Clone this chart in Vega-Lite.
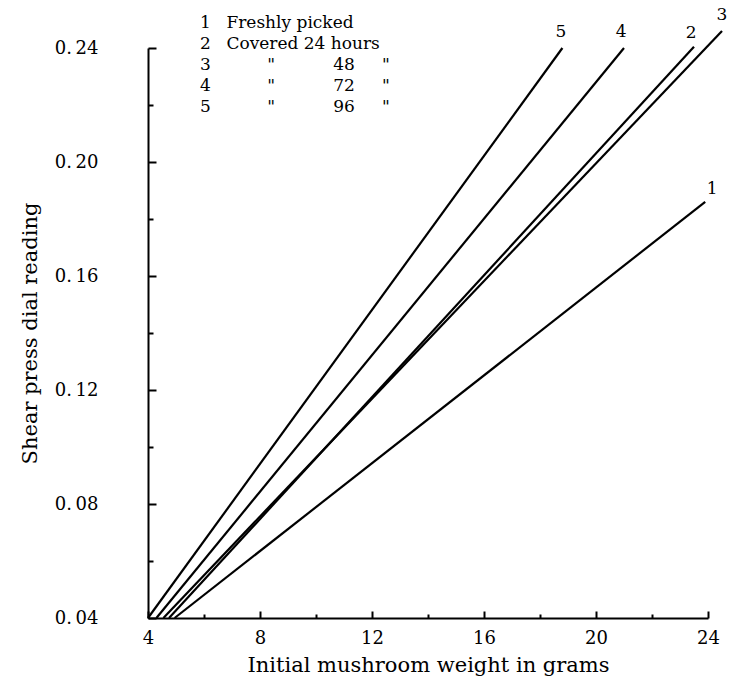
{
  "$schema": "https://vega.github.io/schema/vega-lite/v6.json",
  "width": 560,
  "height": 570,
  "autosize": {"type": "none"},
  "padding": {"left": 148, "top": 48, "right": 23, "bottom": 60},
  "background": "white",
  "config": {"view": {"stroke": null}, "font": "DejaVu Serif"},
  "datasets": {
    "lines": [
      {"series": "1", "x": 4.95, "y": 0.04},
      {"series": "1", "x": 23.9, "y": 0.186},
      {"series": "2", "x": 4.75, "y": 0.04},
      {"series": "2", "x": 23.5, "y": 0.2404},
      {"series": "3", "x": 4.55, "y": 0.04},
      {"series": "3", "x": 24.5, "y": 0.246},
      {"series": "4", "x": 4.3, "y": 0.04},
      {"series": "4", "x": 21.0, "y": 0.24},
      {"series": "5", "x": 4.0, "y": 0.04},
      {"series": "5", "x": 18.8, "y": 0.24}
    ],
    "endLabels": [
      {"label": "5", "x": 18.75, "y": 0.2455},
      {"label": "4", "x": 20.9, "y": 0.2455},
      {"label": "2", "x": 23.4, "y": 0.2452},
      {"label": "3", "x": 24.5, "y": 0.2515},
      {"label": "1", "x": 24.15, "y": 0.1905}
    ],
    "legendLeft": [
      {"text": "Freshly picked", "x": 6.8, "y": 0.2488},
      {"text": "Covered 24 hours", "x": 6.8, "y": 0.2414}
    ],
    "legendCenter": [
      {"text": "1", "x": 6.05, "y": 0.2488},
      {"text": "2", "x": 6.05, "y": 0.2414},
      {"text": "3", "x": 6.05, "y": 0.234},
      {"text": "4", "x": 6.05, "y": 0.2267},
      {"text": "5", "x": 6.05, "y": 0.2193},
      {"text": "\"", "x": 8.4, "y": 0.234},
      {"text": "\"", "x": 8.4, "y": 0.2267},
      {"text": "\"", "x": 8.4, "y": 0.2193},
      {"text": "48", "x": 11.0, "y": 0.234},
      {"text": "72", "x": 11.0, "y": 0.2267},
      {"text": "96", "x": 11.0, "y": 0.2193},
      {"text": "\"", "x": 12.5, "y": 0.234},
      {"text": "\"", "x": 12.5, "y": 0.2267},
      {"text": "\"", "x": 12.5, "y": 0.2193}
    ]
  },
  "encoding": {
    "x": {
      "field": "x", "type": "quantitative",
      "scale": {"domain": [4, 24], "nice": false, "zero": false},
      "axis": {
        "values": [4, 6, 8, 10, 12, 14, 16, 18, 20, 22, 24],
        "title": "Initial mushroom weight in grams",
        "grid": false,
        "domainColor": "black", "domainWidth": 2,
        "tickColor": "black", "tickWidth": 2,
        "tickSize": {"condition": {"test": "datum.value % 4 === 0", "value": -7}, "value": -4},
        "labelExpr": "datum.value % 4 === 0 ? datum.label : ''",
        "labelFont": "DejaVu Serif", "labelFontSize": 18, "labelColor": "black",
        "labelPadding": 18, "labelFlush": false, "labelOverlap": false,
        "titleFont": "DejaVu Serif", "titleFontSize": 21, "titleFontWeight": "normal", "titleColor": "black",
        "titlePadding": 4
      }
    },
    "y": {
      "field": "y", "type": "quantitative",
      "scale": {"domain": [0.04, 0.24], "nice": false, "zero": false},
      "axis": {
        "values": [0.04, 0.06, 0.08, 0.1, 0.12, 0.14, 0.16, 0.18, 0.2, 0.22, 0.24],
        "title": "Shear press dial reading",
        "grid": false,
        "domainColor": "black", "domainWidth": 2,
        "tickColor": "black", "tickWidth": 2,
        "tickSize": {"condition": {"test": "round(datum.value*100) % 4 === 0", "value": -8}, "value": -5},
        "labelExpr": "round(datum.value*100) % 4 === 0 ? replace(format(datum.value, '.2f'), '.', '.\u2009') : ''",
        "labelFont": "DejaVu Serif", "labelFontSize": 18, "labelColor": "black",
        "labelPadding": 58, "labelFlush": false, "labelOverlap": false,
        "titleFont": "DejaVu Serif", "titleFontSize": 21, "titleFontWeight": "normal", "titleColor": "black",
        "titlePadding": 14
      }
    }
  },
  "layer": [
    {
      "data": {"name": "lines"},
      "mark": {"type": "line", "color": "black", "strokeWidth": 2.2, "clip": false},
      "encoding": {"detail": {"field": "series"}}
    },
    {
      "data": {"name": "endLabels"},
      "mark": {"type": "text", "font": "DejaVu Serif", "fontSize": 17, "color": "black", "baseline": "middle", "align": "center"},
      "encoding": {"text": {"field": "label"}}
    },
    {
      "data": {"name": "legendLeft"},
      "mark": {"type": "text", "font": "DejaVu Serif", "fontSize": 17, "color": "black", "baseline": "middle", "align": "left"},
      "encoding": {"text": {"field": "text"}}
    },
    {
      "data": {"name": "legendCenter"},
      "mark": {"type": "text", "font": "DejaVu Serif", "fontSize": 17, "color": "black", "baseline": "middle", "align": "center"},
      "encoding": {"text": {"field": "text"}}
    }
  ]
}
